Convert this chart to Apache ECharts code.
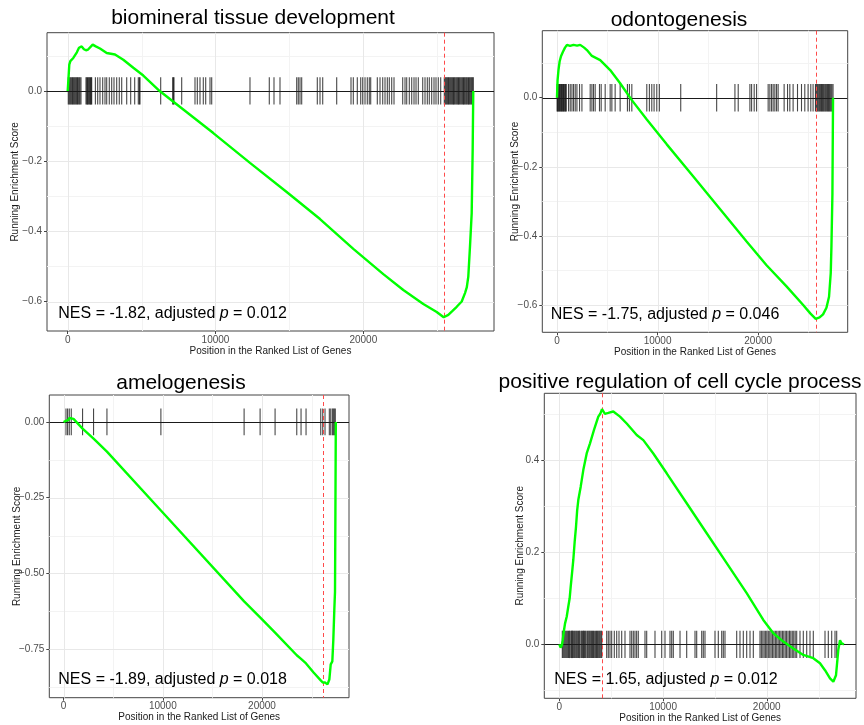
<!DOCTYPE html>
<html><head><meta charset="utf-8">
<script src="https://cdn.jsdelivr.net/npm/echarts@6/dist/echarts.min.js"></script>
<style>html,body{margin:0;padding:0;background:#fff}#c{width:864px;height:725px}</style>
</head><body><div id="c"></div>
<script>
// ---------- DATA ----------
const titles = ["biomineral tissue development", "odontogenesis", "amelogenesis", "positive regulation of cell cycle process"];
const nesValues = ["-1.82", "-1.75", "-1.89", "1.65"];
const padjValues = ["0.012", "0.046", "0.018", "0.012"];
const xTickValues = [0, 10000, 20000];
const xMinorValues = [5000, 15000, 25000];
const xAxisTitle = "Position in the Ranked List of Genes";
const yAxisTitle = "Running Enrichment Score";

// panel 1: biomineral tissue development
const p1Pos = [0, 60, 108, 180, 271, 380, 494, 620, 765, 947, 1100, 1238, 1380, 1509, 1691, 1900, 2185, 2639, 3200, 3762, 4438, 5115, 6245, 7822, 9852, 12333, 14817, 17071, 19324, 21354, 22707, 24060, 24966, 25440, 25752, 26000, 26320, 26658, 26881, 27000, 27104, 27219, 27334, 27400, 27440];
const p1Score = [0, 0.040, 0.075, 0.085, 0.089, 0.094, 0.099, 0.110, 0.123, 0.127, 0.119, 0.116, 0.118, 0.123, 0.132, 0.127, 0.121, 0.108, 0.104, 0.089, 0.066, 0.044, -0.001, -0.053, -0.120, -0.205, -0.288, -0.365, -0.450, -0.522, -0.567, -0.607, -0.630, -0.645, -0.638, -0.628, -0.615, -0.600, -0.576, -0.560, -0.529, -0.443, -0.348, -0.167, 0];
const p1Hits = [40, 100, 156, 210, 271, 330, 379, 440, 494, 550, 609, 660, 717, 780, 832, 900, 1238, 1290, 1340, 1390, 1441, 1490, 1543, 1590, 1624, 1874, 2030, 2185, 2368, 2524, 2639, 2815, 2977, 3133, 3315, 3491, 3654, 3992, 4262, 4533, 4777, 4850, 4892, 6292, 7104, 7150, 7192, 7713, 8613, 8769, 8951, 9175, 9337, 9628, 9743, 12333, 13640, 13958, 14364, 15494, 15602, 15717, 15832, 16888, 17071, 17254, 18200, 19168, 19324, 19594, 19825, 19960, 20116, 20271, 20406, 20501, 20948, 21131, 21313, 21469, 21625, 21760, 21922, 22078, 22666, 22822, 22937, 23113, 23276, 23431, 23567, 23722, 24020, 24175, 24331, 24466, 24628, 24784, 24919, 25075, 25237, 25481, 25540, 25596, 25650, 25711, 25760, 25820, 25880, 25935, 25990, 26049, 26100, 26158, 26210, 26273, 26330, 26388, 26440, 26496, 26550, 26611, 26670, 26726, 26780, 26834, 26890, 26949, 27000, 27064, 27120, 27173, 27230, 27288, 27340, 27403, 27440];
const p1Peak = 25440;

// panel 2: odontogenesis
const p2Pos = [0, 30, 60, 150, 258, 400, 595, 800, 992, 1300, 1647, 2000, 2311, 2700, 2976, 3472, 4295, 5287, 6279, 7440, 8928, 10912, 13551, 16200, 18848, 20832, 22816, 24470, 25200, 25720, 26100, 26448, 26784, 27042, 27210, 27280, 27379, 27440];
const p2Score = [0, 0.025, 0.051, 0.080, 0.104, 0.120, 0.133, 0.145, 0.153, 0.150, 0.153, 0.151, 0.153, 0.145, 0.138, 0.121, 0.109, 0.080, 0.042, -0.007, -0.063, -0.135, -0.228, -0.322, -0.416, -0.485, -0.546, -0.600, -0.625, -0.640, -0.636, -0.627, -0.608, -0.576, -0.508, -0.431, -0.277, 0];
const p2Hits = [10, 65, 129, 190, 258, 330, 397, 460, 526, 590, 655, 720, 794, 860, 923, 1151, 1319, 1488, 1647, 1815, 1984, 2242, 2480, 3303, 3472, 3631, 3799, 4226, 4395, 4792, 5287, 5456, 5783, 6279, 7004, 7202, 7440, 8928, 9186, 9424, 9652, 9920, 10178, 12301, 15872, 17688, 18015, 19176, 19345, 19603, 19841, 20991, 21160, 21329, 21487, 21656, 21825, 21983, 22579, 22916, 23144, 23472, 23908, 24305, 24632, 24960, 25228, 25456, 25693, 25780, 25870, 25950, 26040, 26120, 26210, 26300, 26380, 26470, 26550, 26640, 26720, 26810, 26900, 26980, 27070, 27150, 27240, 27330, 27440];
const p2Peak = 25720;

// panel 3: amelogenesis
const p3Pos = [0, 150, 242, 300, 403, 480, 574, 680, 775, 1000, 1913, 1930, 3021, 3040, 4370, 4390, 9808, 9830, 18197, 18220, 19809, 19830, 21319, 21340, 23504, 23936, 24440, 25200, 25920, 26122, 26182, 26353, 26600, 26787, 26927, 27089, 27189, 27290, 27360, 27400, 27440];
const p3Score = [0, -0.003, 0.004, 0.001, 0.009, 0.006, 0.013, 0.010, 0.018, 0.010, -0.022, -0.016, -0.055, -0.050, -0.098, -0.094, -0.292, -0.287, -0.592, -0.588, -0.645, -0.641, -0.695, -0.691, -0.770, -0.782, -0.797, -0.827, -0.853, -0.860, -0.865, -0.860, -0.866, -0.850, -0.800, -0.790, -0.720, -0.620, -0.560, -0.300, 0];
const p3Hits = [242, 403, 574, 775, 1913, 3021, 4370, 9808, 18197, 19809, 21319, 23504, 23936, 24440, 25920, 26122, 26353, 26787, 26927, 27089, 27189, 27290, 27390];
const p3Peak = 26182;

// panel 4: positive regulation of cell cycle process
const p4Pos = [0, 129, 250, 328, 450, 550, 713, 868, 1000, 1099, 1230, 1350, 1480, 1610, 1720, 1832, 2063, 2314, 2641, 2960, 3345, 3760, 3950, 4116, 4400, 4724, 5206, 5851, 6497, 7461, 8098, 9062, 10353, 12281, 14210, 16137, 18065, 19666, 20632, 21594, 22558, 23522, 24486, 25131, 25614, 26096, 26417, 26600, 26674, 26896, 27060, 27223, 27440];
const p4Score = [0, -0.007, -0.002, 0.009, 0.030, 0.045, 0.060, 0.082, 0.100, 0.125, 0.155, 0.183, 0.222, 0.255, 0.290, 0.313, 0.342, 0.378, 0.414, 0.436, 0.465, 0.494, 0.500, 0.510, 0.500, 0.502, 0.505, 0.494, 0.479, 0.454, 0.443, 0.414, 0.371, 0.306, 0.241, 0.176, 0.111, 0.053, 0.024, 0.006, -0.009, -0.023, -0.030, -0.041, -0.056, -0.074, -0.081, -0.085, -0.067, -0.012, 0.009, 0.002, 0];
const p4Hits = [290, 370, 460, 550, 640, 730, 820, 900, 980, 1100, 1180, 1270, 1350, 1440, 1520, 1610, 1690, 1780, 1860, 1950, 2080, 2160, 2250, 2330, 2420, 2500, 2580, 2700, 2780, 2870, 2950, 3040, 3120, 3210, 3290, 3380, 3500, 3580, 3670, 3750, 3840, 3920, 4010, 4090, 4569, 4724, 4887, 5051, 5302, 5533, 5755, 6015, 6333, 6815, 6977, 7135, 7295, 7455, 7615, 8261, 8425, 9225, 9871, 10189, 10671, 10835, 10990, 11637, 12281, 13082, 13245, 13727, 13881, 14045, 15009, 15328, 15655, 15810, 15973, 17101, 17419, 17738, 18065, 18385, 18703, 19348, 19480, 19620, 19750, 19890, 20010, 20150, 20290, 20420, 20560, 20690, 20830, 20960, 21100, 21240, 21370, 21510, 21640, 21780, 21910, 22050, 22190, 22320, 22460, 22600, 22740, 22885, 23203, 23522, 23850, 24168, 24486, 25614, 25932, 26259, 26578, 26741];
const p4Peak = 4116;

const yTicks = [[-0.6, -0.4, -0.2, 0], [-0.6, -0.4, -0.2, 0], [-0.75, -0.5, -0.25, 0], [0, 0.2, 0.4]];
const yMinor = [[-0.5, -0.3, -0.1, 0.1], [-0.5, -0.3, -0.1, 0.1], [-0.875, -0.625, -0.375, -0.125], [-0.1, 0.1, 0.3, 0.5]];
const yDecimals = [1, 1, 2, 1];

// ---------- LAYOUT ----------
const FONT = "'Liberation Sans', Arial, Helvetica, sans-serif";
const panels = [
  {pos: p1Pos, score: p1Score, hits: p1Hits, peak: p1Peak,
   box: {left: 47, top: 32.7, width: 447, height: 298.3}, xr: [-1400, 28843], yr: [-0.684, 0.166],
   titleXY: [253, 18.5], nesXY: [58.3, 314], yNameGap: 27},
  {pos: p2Pos, score: p2Score, hits: p2Hits, peak: p2Peak,
   box: {left: 542.3, top: 30.7, width: 305.4, height: 301.6}, xr: [-1458, 28897], yr: [-0.679, 0.194],
   titleXY: [679, 20.2], nesXY: [550.7, 314.2], yNameGap: 22},
  {pos: p3Pos, score: p3Score, hits: p3Hits, peak: p3Peak,
   box: {left: 49.3, top: 395, width: 299.7, height: 302.7}, xr: [-1440, 28770], yr: [-0.910, 0.089],
   titleXY: [181, 383.3], nesXY: [58.3, 679.2], yNameGap: 27.5},
  {pos: p4Pos, score: p4Score, hits: p4Hits, peak: p4Peak,
   box: {left: 544.3, top: 393.3, width: 311.7, height: 305}, xr: [-1446, 28602], yr: [-0.117, 0.5445],
   titleXY: [680, 382.5], nesXY: [554.3, 679.2], yNameGap: 19.5}
];

const grids = [], xAxes = [], yAxes = [], series = [], graphics = [];
const fmtY = (d) => (v) => { const n = Number(v); const s = Math.abs(n).toFixed(d); return (n < -1e-9 ? '\u2212' : '') + s; };

// full-span, pixel-snapped reference lines (dir 'x' = vertical at x value, 'y' = horizontal at y value)
const refLines = (i, z, dir, values, stroke, width, dash) => ({
  type: 'custom', xAxisIndex: i, yAxisIndex: i, z: z, silent: true, animation: false,
  data: values.map(v => dir === 'x' ? [v, 0] : [0, v]), encode: {x: 0, y: 1},
  renderItem: (params, api) => {
    const cs = params.coordSys;
    const pt = api.coord([api.value(0), api.value(1)]);
    let shape;
    if (dir === 'x') {
      const px = Math.round(pt[0]) + 0.5;
      shape = {x1: px, y1: cs.y, x2: px, y2: cs.y + cs.height};
    } else {
      const py = Math.round(pt[1]) + 0.5;
      shape = {x1: cs.x, y1: py, x2: cs.x + cs.width, y2: py};
    }
    return {type: 'line', shape: shape, style: {stroke: stroke, lineWidth: width, lineDash: dash || null}};
  }
});

panels.forEach((p, i) => {
  grids.push(Object.assign({show: true, borderColor: '#444', borderWidth: 1, backgroundColor: '#fff', containLabel: false, outerBoundsMode: 'none'}, p.box));
  xAxes.push({
    gridIndex: i, type: 'value', min: p.xr[0], max: p.xr[1], position: 'bottom',
    axisLine: {show: false, onZero: false},
    axisTick: {show: true, length: 3, customValues: xTickValues, lineStyle: {color: '#444', width: 1}},
    axisLabel: {customValues: xTickValues, color: '#4d4d4d', fontSize: 10, fontFamily: FONT, margin: 4, formatter: (v) => String(Math.round(v))},
    splitLine: {show: false}, minorSplitLine: {show: false},
    name: xAxisTitle, nameLocation: 'middle', nameGap: 15, nameMoveOverlap: false,
    nameTextStyle: {fontSize: 10, color: '#1a1a1a', fontFamily: FONT}
  });
  yAxes.push({
    gridIndex: i, type: 'value', min: p.yr[0], max: p.yr[1], position: 'left',
    axisLine: {show: false, onZero: false},
    axisTick: {show: true, length: 3, customValues: yTicks[i], lineStyle: {color: '#444', width: 1}},
    axisLabel: {customValues: yTicks[i], color: '#4d4d4d', fontSize: 10, fontFamily: FONT, margin: 5, formatter: fmtY(yDecimals[i])},
    splitLine: {show: false},
    name: yAxisTitle, nameLocation: 'middle', nameGap: p.yNameGap, nameRotate: 90, nameMoveOverlap: false,
    nameTextStyle: {fontSize: 10, color: '#1a1a1a', fontFamily: FONT}
  });

  // grid lines: minor then major
  series.push(refLines(i, 1, 'x', xMinorValues, '#F3F3F3', 1));
  series.push(refLines(i, 1, 'y', yMinor[i].filter(v => v > p.yr[0] && v < p.yr[1]), '#F3F3F3', 1));
  series.push(refLines(i, 1, 'x', xTickValues, '#E8E8E8', 1));
  series.push(refLines(i, 1, 'y', yTicks[i], '#E8E8E8', 1));

  // rug of gene hits
  const smin = Math.min(...p.score), smax = Math.max(...p.score);
  const h = (smax - smin) / 20;
  series.push({type: 'custom', xAxisIndex: i, yAxisIndex: i, z: 2, silent: true, animation: false,
    data: p.hits.map(v => [v, 0]), encode: {x: 0, y: 1},
    renderItem: (params, api) => {
      const x = api.value(0);
      const a = api.coord([x, h]), b = api.coord([x, -h]);
      return {type: 'line', shape: {x1: a[0], y1: a[1], x2: b[0], y2: b[1]}, style: {stroke: 'rgba(0,0,0,0.72)', lineWidth: 1.1}};
    }});

  // zero line and red dashed line at the enrichment peak
  series.push(refLines(i, 3, 'y', [0], '#1a1a1a', 1));
  series.push(refLines(i, 4, 'x', [p.peak], '#ff4a4a', 1, [4, 3]));

  // running enrichment score
  series.push({type: 'line', xAxisIndex: i, yAxisIndex: i, z: 5, silent: true, animation: false,
    data: p.pos.map((x, j) => [x, p.score[j]]), showSymbol: false, symbol: 'none', smooth: false,
    color: '#00ff00', lineStyle: {color: '#00ff00', width: 2.4}});

  graphics.push({type: 'text', x: p.titleXY[0], y: p.titleXY[1], z: 10,
    style: {text: titles[i], fill: '#000', fontSize: 21, fontFamily: FONT, align: 'center', verticalAlign: 'middle', textAlign: 'center', textVerticalAlign: 'middle'}});
  graphics.push({type: 'text', x: p.nesXY[0], y: p.nesXY[1], z: 10,
    style: {text: 'NES = ' + nesValues[i] + ', adjusted {i|p} = ' + padjValues[i], fill: '#000', fontSize: 16, fontFamily: FONT,
      align: 'left', verticalAlign: 'middle', textAlign: 'left', textVerticalAlign: 'middle',
      rich: {i: {fontStyle: 'italic', fontSize: 16, fontFamily: FONT, fill: '#000'}}}});
});

const chart = echarts.init(document.getElementById('c'), null, {renderer: 'canvas', width: 864, height: 725});
chart.setOption({
  animation: false,
  backgroundColor: '#fff',
  grid: grids, xAxis: xAxes, yAxis: yAxes, series: series,
  graphic: {elements: graphics}
});
</script>
</body></html>
